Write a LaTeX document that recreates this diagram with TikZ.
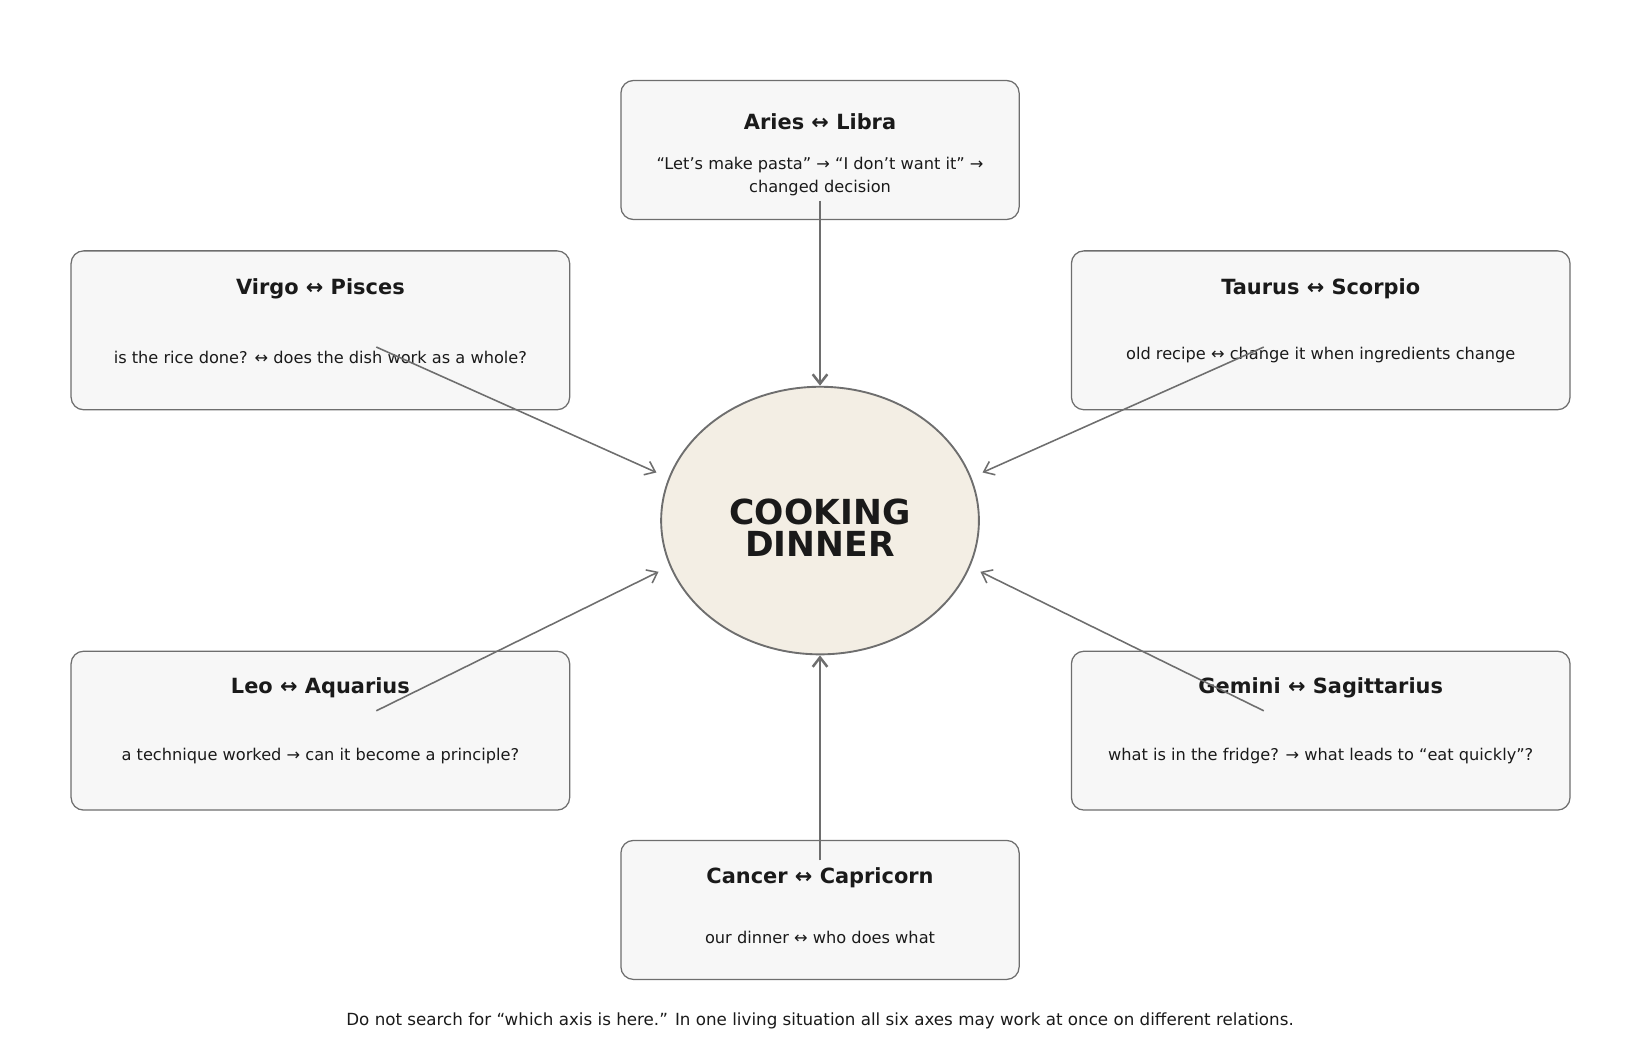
\documentclass[tikz,border=0pt]{standalone}
\usepackage{fontspec}
\setmainfont{DejaVu Sans}
\usetikzlibrary{arrows.meta}
\definecolor{boxfill}{HTML}{F7F7F7}
\definecolor{boxline}{HTML}{6E6E6E}
\definecolor{ellfill}{HTML}{F3EEE4}
\definecolor{txt}{HTML}{1A1A1A}
\begin{document}
\begin{tikzpicture}[x=1pt,y=-1pt,
  box/.style={draw=boxline,fill=boxfill,line width=1.2pt,rounded corners=12pt},
  ttl/.style={font=\bfseries\fontsize{20}{24}\selectfont,text=txt},
  bdy/.style={font=\fontsize{15.5}{22}\selectfont,text=txt,align=center},
  arr/.style={draw=boxline,line width=1.5pt,-{Straight Barb[length=9pt,width=14pt]}},
  varr/.style={arr,line width=2.4pt}]
\useasboundingbox (0,0) rectangle (1568,1015);
% boxes
\path[box] (594,77) rectangle (975,210);
\path[box] (68,240) rectangle (545,392);
\path[box] (1025,240) rectangle (1502,392);
\path[box] (68,623) rectangle (545,775);
\path[box] (1025,623) rectangle (1502,775);
\path[box] (594,804) rectangle (975,937);
\node[ttl] (t1) at (784.5,116) {Aries ↔ Libra};
\node[bdy] (b1) at (784.5,169) {“Let’s make pasta” → “I don’t want it” →\\changed decision};
\node[ttl] (t2) at (306.5,276) {Virgo ↔ Pisces};
\node[bdy] (b2) at (306.5,342) {is the rice done? ↔ does the dish work as a whole?};
\node[ttl] (t3) at (1263.5,276) {Taurus ↔ Scorpio};
\node[bdy] (b3) at (1263.5,340) {old recipe ↔ change it when ingredients change};
\node[ttl] (t4) at (306.5,658) {Leo ↔ Aquarius};
\node[bdy] (b4) at (306.5,723) {a technique worked → can it become a principle?};
\node[ttl] (t5) at (1263.5,658) {Gemini ↔ Sagittarius};
\node[bdy] (b5) at (1263.5,723) {what is in the fridge? → what leads to “eat quickly”?};
\node[ttl] (t6) at (784.5,840) {Cancer ↔ Capricorn};
\node[bdy] (b6) at (784.5,897) {our dinner ↔ who does what};
% center
\draw[draw=boxline,fill=ellfill,line width=1.8pt] (784.5,498) ellipse [x radius=152,y radius=128];
\node[font=\bfseries\fontsize{33}{30}\selectfont,text=txt,align=center] (c) at (784.5,505) {COOKING\\DINNER};
% arrow endpoints
\coordinate (s1) at (784.5,192); \coordinate (e1) at (784.5,369);
\coordinate (s2) at (360,332); \coordinate (e2) at (628,452);
\coordinate (s3) at (1209,332); \coordinate (e3) at (940,452);
\coordinate (s4) at (360,680); \coordinate (e4) at (630,547);
\coordinate (s5) at (1209,680); \coordinate (e5) at (938,547);
\coordinate (s6) at (784.5,823); \coordinate (e6) at (784.5,627);
\draw[varr] (s1) -- (e1);
\draw[arr] (s2) -- (e2);
\draw[arr] (s3) -- (e3);
\draw[arr] (s4) -- (e4);
\draw[arr] (s5) -- (e5);
\draw[varr] (s6) -- (e6);
\node[font=\fontsize{16}{20}\selectfont,text=txt] (f) at (784.5,977) {Do not search for “which axis is here.” In one living situation all six axes may work at once on different relations.};
\end{tikzpicture}
\end{document}
